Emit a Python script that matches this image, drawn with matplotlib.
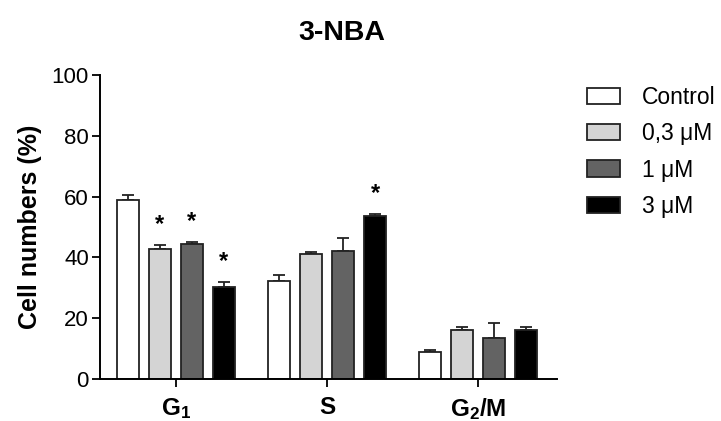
import numpy as np
import matplotlib
matplotlib.use('Agg')
import matplotlib.pyplot as plt

plt.rcParams['font.family'] = ['Liberation Sans', 'DejaVu Sans']
plt.rcParams['mathtext.fontset'] = 'custom'
plt.rcParams['mathtext.rm'] = 'Liberation Sans:bold'
plt.rcParams['mathtext.it'] = 'Liberation Sans:bold'
plt.rcParams['mathtext.bf'] = 'Liberation Sans:bold'

phases = [r'$\mathrm{G_1}$', 'S', r'$\mathrm{G_2/M}$']
groups = ['Control', '0,3 μM', '1 μM', '3 μM']
colors = ['#ffffff', '#d4d4d4', '#636363', '#000000']

means = [
    [58.8, 32.1, 9.0],
    [42.9, 41.0, 16.1],
    [44.4, 42.2, 13.4],
    [30.4, 53.6, 16.1],
]
errs = [
    [1.8, 2.1, 0.4],
    [1.3, 0.9, 0.9],
    [0.8, 4.2, 5.1],
    [1.6, 0.8, 0.9],
]
signif = [
    [False, False, False],
    [True, False, False],
    [True, False, False],
    [True, True, False],
]

fig = plt.figure(figsize=(7.21, 4.21), dpi=100)
ax = fig.add_axes([100 / 721, 1 - 379 / 421, 457 / 721, 304 / 421])

x = np.arange(len(phases))
step = 0.212
width = 0.142
for i, g in enumerate(groups):
    pos = x + (i - 1.5) * step
    m = np.array(means[i])
    e = np.array(errs[i])
    ax.bar(pos, m, width, color=colors[i], edgecolor='#222222',
           linewidth=1.3, label=g, zorder=2)
    ax.errorbar(pos, m, yerr=[np.zeros_like(e), e], fmt='none',
                ecolor='#222222', elinewidth=1.3, capsize=4.2,
                capthick=1.3, zorder=1)
    for p, top, s in zip(pos, m + e, signif[i]):
        if s:
            ax.text(p, top + 4.6, '*', ha='center', va='baseline',
                    fontsize=17, fontweight='bold')

ax.set_xlim(-0.503, 2.523)
ax.set_ylim(0, 100)
ax.set_yticks([0, 20, 40, 60, 80, 100])
ax.set_xticks(x)
ax.set_xticklabels(phases, fontsize=17.5, fontweight='bold')
ax.tick_params(axis='y', labelsize=16, length=6, width=1.3, pad=2)
ax.tick_params(axis='x', length=6, width=1.3, pad=6)
for side in ['top', 'right']:
    ax.spines[side].set_visible(False)
for side in ['left', 'bottom']:
    ax.spines[side].set_linewidth(1.4)

ax.set_ylabel('Cell numbers (%)', fontsize=18, fontweight='bold', labelpad=7)
fig.text(342 / 721, 1 - 33 / 421, '3-NBA', ha='center', va='center',
         fontsize=20.5, fontweight='bold')

fig.legend(loc='upper left', bbox_to_anchor=(587 / 721, 1 - 86 / 421),
           frameon=False, fontsize=16.5, handlelength=1.45, handleheight=0.72,
           handletextpad=0.95, labelspacing=0.58, borderpad=0,
           borderaxespad=0)

fig.savefig('out.png', dpi=100)
